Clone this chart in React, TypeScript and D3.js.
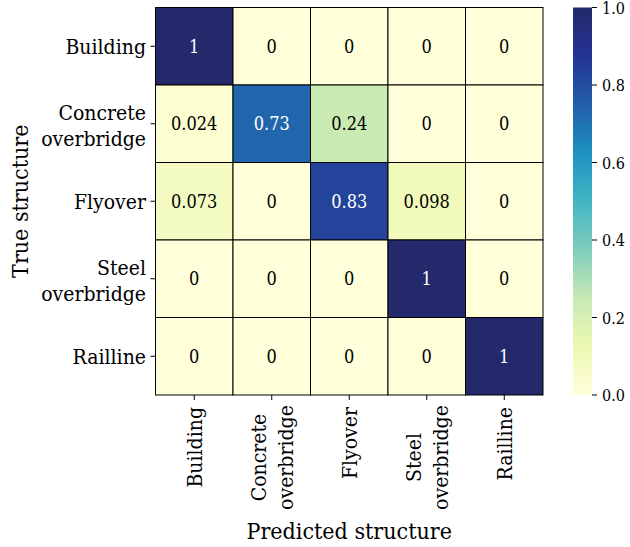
import React from "react";
import * as d3 from "d3";

const classes = ["Building", "Concrete\noverbridge", "Flyover", "Steel\noverbridge", "Railline"];
const rowBuilding = [1, 0, 0, 0, 0];
const rowConcrete = [0.024, 0.73, 0.24, 0, 0];
const rowFlyover = [0.073, 0, 0.83, 0.098, 0];
const rowSteel = [0, 0, 0, 1, 0];
const rowRailline = [0, 0, 0, 0, 1];
const matrix = [rowBuilding, rowConcrete, rowFlyover, rowSteel, rowRailline];
const colorbarTicks = [0, 0.2, 0.4, 0.6, 0.8, 1.0];
const paletteColors = ["#ffffd9", "#edf8b1", "#c7e9b4", "#7fcdbb", "#41b6c4", "#1d91c0", "#225ea8", "#253494", "#23296b"];

const W = 630;
const H = 547;
const gx0 = 155.5, gx1 = 543, gy0 = 7.5, gy1 = 395;
const cbx0 = 573, cbx1 = 592;
const FONT = "'DejaVu Serif Condensed', 'DejaVu Serif', serif";

export default function App() {
  const idx = d3.range(classes.length);
  const x = d3.scaleBand<number>().domain(idx).range([gx0, gx1]);
  const y = d3.scaleBand<number>().domain(idx).range([gy0, gy1]);
  const color = d3
    .scaleLinear<string>()
    .domain(paletteColors.map((_, i) => i / (paletteColors.length - 1)))
    .range(paletteColors)
    .interpolate(d3.interpolateRgb);
  const cy = d3.scaleLinear().domain([0, 1]).range([gy1, gy0]);
  const stops = d3.range(0, 1.0001, 0.025);

  return (
    <svg width={W} height={H} style={{ position: "absolute", left: 0, top: 0, background: "#fff", fontFamily: FONT, fontStretch: "condensed" }}>
      <defs>
        <linearGradient id="cb" x1="0" y1="1" x2="0" y2="0">
          {stops.map((s) => (
            <stop key={s} offset={s} stopColor={color(s)} />
          ))}
        </linearGradient>
      </defs>
      {matrix.map((row, i) =>
        row.map((v, j) => (
          <g key={`${i}-${j}`}>
            <rect x={x(j)} y={y(i)} width={x.bandwidth()} height={y.bandwidth()} fill={color(v)} stroke="#000" strokeWidth={1} />
            <text
              x={x(j)! + x.bandwidth() / 2}
              y={y(i)! + y.bandwidth() / 2 + 6.5}
              textAnchor="middle"
              fontSize={18}
              fill={v > 0.6 ? "#fff" : "#000"}
            >
              {String(v)}
            </text>
          </g>
        ))
      )}
      {classes.map((c, i) => {
        const ty = y(i)! + y.bandwidth() / 2;
        const lines = c.split("\n");
        return (
          <g key={c}>
            <line x1={gx0 - 5} x2={gx0} y1={ty} y2={ty} stroke="#000" strokeWidth={1} />
            <text textAnchor="end" fontSize={21} fill="#000">
              {lines.length === 1 ? (
                <tspan x={146} y={ty + 7.5}>{lines[0]}</tspan>
              ) : (
                lines.map((l, k) => (
                  <tspan key={k} x={146} y={ty - 4 + k * 26.5}>{l}</tspan>
                ))
              )}
            </text>
          </g>
        );
      })}
      {classes.map((c, j) => {
        const tx = x(j)! + x.bandwidth() / 2;
        const lines = c.split("\n");
        return (
          <g key={c}>
            <line x1={tx} x2={tx} y1={gy1} y2={gy1 + 5} stroke="#000" strokeWidth={1} />
            {lines.length === 1 ? (
              <text transform={`translate(${tx + 7.5},${407}) rotate(-90)`} textAnchor="end" fontSize={21} fill="#000">
                {lines[0]}
              </text>
            ) : (
              <g transform={`translate(${tx},${407}) rotate(-90)`}>
                {lines.map((l, k) => (
                  <text key={k} x={-50.5} y={k === 0 ? -5.5 : 21} textAnchor="middle" fontSize={21} fill="#000">
                    {l}
                  </text>
                ))}
              </g>
            )}
          </g>
        );
      })}
      <text x={(gx0 + gx1) / 2} y={539} textAnchor="middle" fontSize={23} fill="#000">
        Predicted structure
      </text>
      <text transform={`translate(28,${(gy0 + gy1) / 2}) rotate(-90)`} textAnchor="middle" fontSize={23} fill="#000">
        True structure
      </text>
      <rect x={cbx0} y={gy0} width={cbx1 - cbx0} height={gy1 - gy0} fill="url(#cb)" />
      {colorbarTicks.map((t) => (
        <g key={t}>
          <line x1={cbx1} x2={cbx1 + 5} y1={cy(t)} y2={cy(t)} stroke="#000" strokeWidth={1} />
          <text x={cbx1 + 10} y={cy(t) + 6} fontSize={16} fill="#000">
            {t.toFixed(1)}
          </text>
        </g>
      ))}
    </svg>
  );
}
